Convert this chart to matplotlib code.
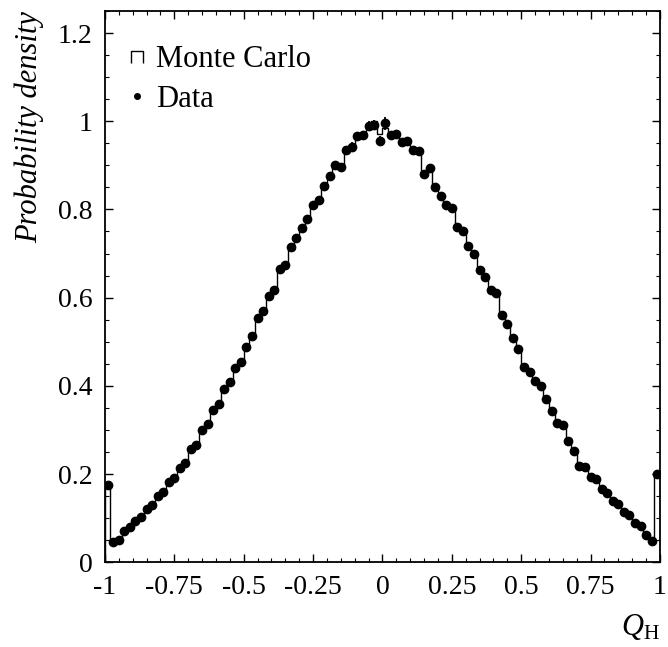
import numpy as np
import matplotlib
matplotlib.use('Agg')
import matplotlib.pyplot as plt
from matplotlib.lines import Line2D
from matplotlib.path import Path

plt.rcParams['font.family'] = ['Liberation Serif', 'DejaVu Serif']
plt.rcParams['mathtext.fontset'] = 'custom'
plt.rcParams['mathtext.rm'] = 'Liberation Serif'
plt.rcParams['mathtext.it'] = 'Liberation Serif:italic'
plt.rcParams['axes.unicode_minus'] = False

# ─────────────────────────────────────────
# DATA  (100 bins over -1..1)
# ─────────────────────────────────────────

bin_lo, bin_hi = -1.0, 1.0

mc_density = [
    0.170, 0.045, 0.052, 0.066, 0.082, 0.091, 0.104, 0.118, 0.133, 0.148,
    0.162, 0.178, 0.192, 0.210, 0.228, 0.252, 0.270, 0.296, 0.318, 0.340,
    0.362, 0.388, 0.412, 0.436, 0.458, 0.484, 0.520, 0.548, 0.575, 0.598,
    0.622, 0.660, 0.678, 0.708, 0.742, 0.752, 0.782, 0.805, 0.826, 0.848,
    0.880, 0.896, 0.900, 0.928, 0.946, 0.960, 0.972, 0.985, 1.000, 0.970,
    0.985, 0.972, 0.966, 0.958, 0.950, 0.940, 0.928, 0.886, 0.890, 0.856,
    0.826, 0.816, 0.800, 0.766, 0.745, 0.722, 0.695, 0.668, 0.642, 0.625,
    0.606, 0.566, 0.536, 0.514, 0.480, 0.448, 0.428, 0.415, 0.396, 0.376,
    0.340, 0.322, 0.308, 0.282, 0.248, 0.224, 0.212, 0.198, 0.184, 0.170,
    0.155, 0.142, 0.130, 0.118, 0.105, 0.092, 0.080, 0.066, 0.045, 0.198,
]

data_density = [
    0.175, 0.046, 0.050, 0.070, 0.080, 0.093, 0.102, 0.121, 0.130, 0.150,
    0.160, 0.182, 0.190, 0.214, 0.224, 0.256, 0.266, 0.300, 0.314, 0.345,
    0.358, 0.392, 0.408, 0.440, 0.455, 0.488, 0.514, 0.553, 0.570, 0.604,
    0.618, 0.666, 0.674, 0.714, 0.736, 0.758, 0.778, 0.810, 0.822, 0.853,
    0.876, 0.900, 0.896, 0.934, 0.942, 0.966, 0.968, 0.990, 0.992, 0.955,
    0.995, 0.968, 0.970, 0.952, 0.955, 0.934, 0.932, 0.880, 0.894, 0.850,
    0.830, 0.810, 0.804, 0.760, 0.750, 0.716, 0.700, 0.662, 0.646, 0.618,
    0.610, 0.560, 0.540, 0.508, 0.484, 0.442, 0.432, 0.410, 0.400, 0.370,
    0.344, 0.316, 0.312, 0.276, 0.252, 0.218, 0.216, 0.194, 0.188, 0.165,
    0.158, 0.138, 0.133, 0.114, 0.108, 0.088, 0.083, 0.062, 0.048, 0.200,
]

data_err = [
    0.006, 0.002, 0.002, 0.003, 0.003, 0.003, 0.003, 0.004, 0.004, 0.004,
    0.004, 0.004, 0.004, 0.005, 0.005, 0.005, 0.005, 0.005, 0.006, 0.006,
    0.006, 0.006, 0.006, 0.006, 0.007, 0.007, 0.007, 0.007, 0.007, 0.007,
    0.008, 0.008, 0.008, 0.008, 0.008, 0.008, 0.009, 0.009, 0.009, 0.009,
    0.009, 0.009, 0.009, 0.010, 0.010, 0.010, 0.010, 0.010, 0.010, 0.012,
    0.014, 0.010, 0.010, 0.010, 0.010, 0.010, 0.010, 0.009, 0.009, 0.009,
    0.009, 0.009, 0.009, 0.009, 0.008, 0.008, 0.008, 0.008, 0.008, 0.008,
    0.008, 0.007, 0.007, 0.007, 0.007, 0.007, 0.006, 0.006, 0.006, 0.006,
    0.006, 0.006, 0.005, 0.005, 0.005, 0.005, 0.005, 0.004, 0.004, 0.004,
    0.004, 0.004, 0.004, 0.003, 0.003, 0.003, 0.003, 0.003, 0.002, 0.006,
]

x_ticks = [-1, -0.75, -0.5, -0.25, 0, 0.25, 0.5, 0.75, 1]
x_tick_labels = ['-1', '-0.75', '-0.5', '-0.25', '0', '0.25', '0.5', '0.75', '1']
y_ticks = [0, 0.2, 0.4, 0.6, 0.8, 1.0, 1.2]
y_tick_labels = ['0', '0.2', '0.4', '0.6', '0.8', '1', '1.2']

edges = np.linspace(bin_lo, bin_hi, len(mc_density) + 1)
centers = 0.5 * (edges[:-1] + edges[1:])

# ─────────────────────────────────────────
# PLOT
# ─────────────────────────────────────────

fig = plt.figure(figsize=(6.68, 6.47), dpi=100)
ax = fig.add_axes([0.157, 0.131, 0.831, 0.852])

ax.stairs(mc_density, edges, baseline=0, color='black', linewidth=1.0)
ax.errorbar(centers, data_density, yerr=data_err, fmt='o', color='black',
            markersize=6, elinewidth=1.3, capsize=0, zorder=3)

ax.set_xlim(-1, 1)
ax.set_ylim(0, 1.25)
ax.set_xticks(x_ticks)
ax.set_xticklabels(x_tick_labels)
ax.set_yticks(y_ticks)
ax.set_yticklabels(y_tick_labels)
ax.set_xticks(np.arange(-1, 1.001, 0.05), minor=True)
ax.set_yticks(np.arange(0, 1.251, 0.05), minor=True)
ax.tick_params(which='both', direction='in', top=True, right=True,
               labeltop=False, labelright=False)
ax.tick_params(which='major', length=6, width=1.0, labelsize=20, pad=9)
ax.tick_params(which='minor', length=3, width=0.8)
for s in ax.spines.values():
    s.set_linewidth(1.3)

ax.set_ylabel('Probability density', fontsize=22, style='italic',
              loc='top', labelpad=10)
ax.set_xlabel(r'$Q_\mathrm{H}$', fontsize=22, loc='right', labelpad=9)

# legend: open-bottom box for histogram, dot for data
box = Path([(-1, -1), (-1, 1), (1, 1), (1, -1)],
           [Path.MOVETO, Path.LINETO, Path.LINETO, Path.LINETO])
handles = [
    Line2D([], [], linestyle='none', marker=box, markersize=8,
           markerfacecolor='none', markeredgecolor='black', markeredgewidth=1.0),
    Line2D([], [], linestyle='none', marker='o', markersize=4, color='black'),
]
ax.legend(handles, ['Monte Carlo', 'Data'], loc='upper left',
          bbox_to_anchor=(0.02, 0.96), frameon=False, fontsize=22,
          handlelength=0.6, handletextpad=0.3, labelspacing=0.35,
          borderaxespad=0)

fig.savefig('out.png', dpi=100)
